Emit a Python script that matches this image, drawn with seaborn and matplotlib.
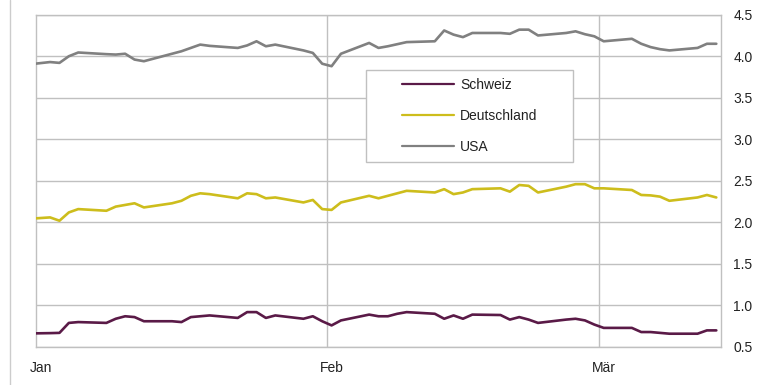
import matplotlib
matplotlib.use("Agg")
import matplotlib.pyplot as plt
import matplotlib.dates as mdates
from matplotlib.lines import Line2D
from matplotlib.patches import Rectangle
import numpy as np
import pandas as pd
import seaborn as sns

# Trading days (values taken at midday), Dec 29 feeds the left edge of the window
dates = [pd.Timestamp("2023-12-29")] + list(pd.bdate_range("2024-01-02", "2024-03-13"))
dates = [d + pd.Timedelta(hours=12) for d in dates]

schweiz = [0.66, 0.667, 0.67, 0.79, 0.80,
           0.79, 0.84, 0.87, 0.86, 0.81,
           0.81, 0.80, 0.86, 0.87, 0.88,
           0.85, 0.92, 0.92, 0.85, 0.88,
           0.84, 0.87, 0.81, 0.76, 0.82,
           0.89, 0.87, 0.87, 0.90, 0.92,
           0.90, 0.84, 0.88, 0.84, 0.89,
           0.885, 0.83, 0.86, 0.83, 0.79,
           0.83, 0.84, 0.82, 0.77, 0.73,
           0.73, 0.68, 0.68, 0.67, 0.66,
           0.66, 0.70, 0.70]

deutschland = [2.03, 2.06, 2.02, 2.12, 2.16,
               2.14, 2.19, 2.21, 2.23, 2.18,
               2.23, 2.26, 2.32, 2.35, 2.34,
               2.29, 2.35, 2.34, 2.29, 2.30,
               2.24, 2.27, 2.16, 2.15, 2.24,
               2.32, 2.29, 2.32, 2.35, 2.38,
               2.36, 2.40, 2.34, 2.36, 2.40,
               2.41, 2.37, 2.45, 2.44, 2.36,
               2.43, 2.46, 2.46, 2.41, 2.41,
               2.39, 2.33, 2.325, 2.31, 2.26,
               2.30, 2.33, 2.30]

usa = [3.88, 3.93, 3.92, 4.00, 4.045,
       4.025, 4.02, 4.03, 3.96, 3.94,
       4.03, 4.06, 4.10, 4.14, 4.125,
       4.10, 4.13, 4.18, 4.12, 4.14,
       4.07, 4.04, 3.91, 3.88, 4.03,
       4.16, 4.10, 4.12, 4.145, 4.17,
       4.18, 4.31, 4.26, 4.23, 4.28,
       4.28, 4.27, 4.32, 4.32, 4.25,
       4.28, 4.30, 4.265, 4.24, 4.18,
       4.21, 4.15, 4.11, 4.085, 4.07,
       4.10, 4.15, 4.15]

series_names = ["Schweiz", "Deutschland", "USA"]
series_colors = ["#5a1a47", "#cdbd1c", "#808080"]
month_labels = ["Jan", "Feb", "Mär"]
month_starts = ["2024-01-01", "2024-02-01", "2024-03-01"]
y_ticks = [0.5, 1.0, 1.5, 2.0, 2.5, 3.0, 3.5, 4.0, 4.5]

df = pd.DataFrame({"Datum": dates, "Schweiz": schweiz,
                   "Deutschland": deutschland, "USA": usa})
long = df.melt(id_vars="Datum", var_name="Land", value_name="Rendite")

sns.set_theme(style="white")
plt.rcParams["font.family"] = ["Liberation Sans", "DejaVu Sans"]

W, H = 761, 385
fig = plt.figure(figsize=(W / 100, H / 100), dpi=100)
ax = fig.add_axes([36 / W, (H - 347) / H, (721 - 36) / W, (347 - 14.7) / H])

grid_c = "#c0c0c0"
sns.lineplot(data=long, x="Datum", y="Rendite", hue="Land",
             hue_order=series_names, palette=series_colors,
             linewidth=1.9, ax=ax, legend=False, zorder=3)

ax.set_xlim(pd.Timestamp("2024-01-01"), pd.Timestamp("2024-03-14"))
ax.set_ylim(0.5, 4.5)
ax.set_xlabel("")
ax.set_ylabel("")

# month labels sit in the middle of the first day, gridlines at its start
starts = [pd.Timestamp(s) for s in month_starts]
ax.set_xticks([s + pd.Timedelta(hours=12) for s in starts])
ax.set_xticklabels(month_labels)
ax.set_xticks(starts[1:], minor=True)
ax.grid(True, which="minor", axis="x", color=grid_c, linewidth=1.0)
ax.set_yticks(y_ticks)
ax.set_yticklabels([f"{v:.1f}" for v in y_ticks])
ax.grid(True, which="major", axis="y", color=grid_c, linewidth=1.0)
ax.grid(False, which="major", axis="x")
ax.yaxis.tick_right()
ax.tick_params(axis="y", which="both", length=0, pad=9, labelsize=10, labelcolor="#222222")
ax.tick_params(axis="x", which="both", length=0, pad=10, labelsize=10, labelcolor="#222222")
for s in ax.spines.values():
    s.set_visible(True)
    s.set_color(grid_c)
    s.set_linewidth(1.0)

# legend box
box = Rectangle((365.7 / W, (H - 162.3) / H), 207.6 / W, 92.3 / H,
                transform=fig.transFigure, facecolor="white",
                edgecolor=grid_c, linewidth=1.0, zorder=4)
ax.add_artist(box)
handles = [Line2D([0], [0], color=c, linewidth=1.6) for c in series_colors]
leg = ax.legend(handles, series_names, loc="center",
                bbox_to_anchor=(469.5 / W, (H - 116.2) / H),
                bbox_transform=fig.transFigure, frameon=False,
                fontsize=10, handlelength=3.8, handletextpad=0.42,
                labelspacing=1.22, borderpad=0.3)
leg.set_zorder(5)
for t in leg.get_texts():
    t.set_color("#222222")

# thin rule along the left edge of the figure
fig.add_artist(Line2D([9.5 / W, 9.5 / W], [0, 1], transform=fig.transFigure,
                      color="#cccccc", linewidth=1.0))

fig.savefig("out.png", dpi=100)
